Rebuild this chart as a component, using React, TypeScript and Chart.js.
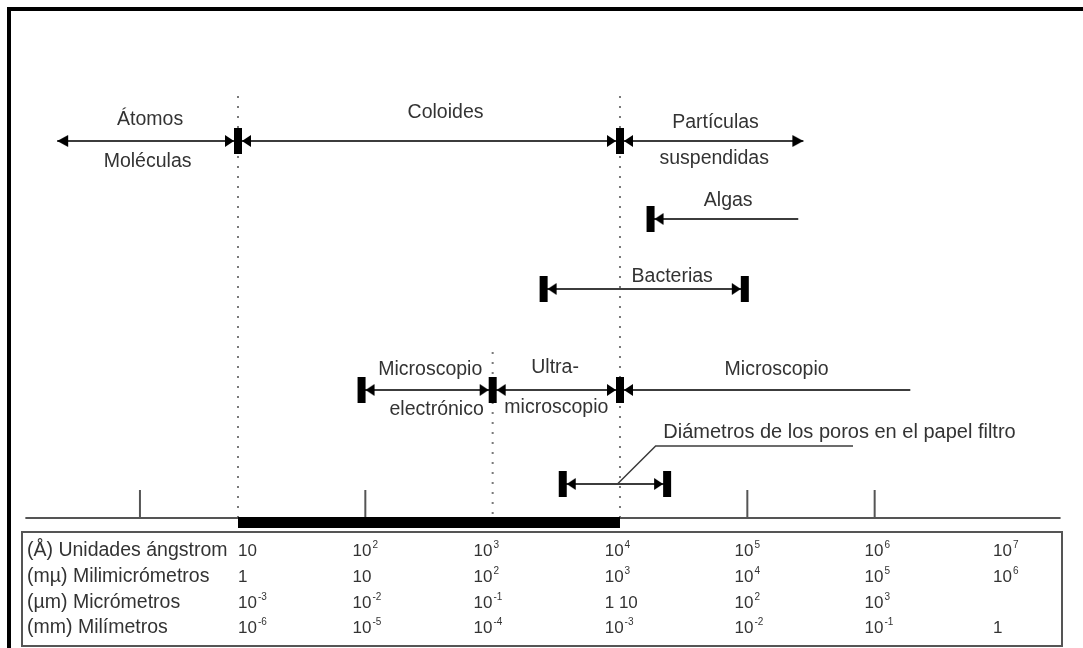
import React, { useEffect, useRef } from "react";
import { Chart, registerables } from "chart.js";

Chart.register(...registerables);

// ---------- DATA (x values are log10 of the size in Ångström) ----------
const mainRow = [-0.42, 1, 4, 5.44]; // Átomos | Coloides | Partículas suspendidas
const algasRow = [4.24, 5.4];
const bacteriasRow = [3.4, 4.98];
const microscopeRow = [1.97, 3, 4, 6.28]; // electrónico | ultra | óptico
const poresRow = [3.55, 4.37];
const colloidBand = [1, 4];
const dottedLimits = [1, 3, 4];
const axisTicks = [0.23, 2, 5, 6];
const axisExtent = [-0.67, 7.46];
const poreLeader = [3.98, 4.28, 5.83];

const labelTexts = [
  "Átomos", "Moléculas", "Coloides", "Partículas", "suspendidas", "Algas",
  "Bacterias", "Microscopio", "electrónico", "Ultra-", "microscopio", "Microscopio",
];
const labelX = [0.31, 0.29, 2.63, 4.75, 4.74, 4.85, 4.41, 2.51, 2.56, 3.49, 3.5, 5.23];
const poreLabel = "Diámetros de los poros en el papel filtro";
const poreLabelX = 4.34;

const tableRowLabels = [
  "(Å) Unidades ángstrom",
  "(mµ) Milimicrómetros",
  "(µm) Micrómetros",
  "(mm) Milímetros",
];
const tableColumns = [1, 1.9, 2.85, 3.88, 4.9, 5.92, 6.93];
const angstromRow = ["10", "10^2", "10^3", "10^4", "10^5", "10^6", "10^7"];
const milimicroRow = ["1", "10", "10^2", "10^3", "10^4", "10^5", "10^6"];
const microRow = ["10^-3", "10^-2", "10^-1", "1 10", "10^2", "10^3", ""];
const miliRow = ["10^-6", "10^-5", "10^-4", "10^-3", "10^-2", "10^-1", "1"];

// ---------- LAYOUT ----------
const W = 1083;
const H = 648;
const LANE = { main: 141, algas: 219, bacterias: 289, scope: 390, pores: 484, axis: 518, band: 522.5, tickTop: 490, leaderTop: 446 };
const labelY = [120, 162, 113, 123, 159, 201, 277, 370, 410, 368, 408, 370];
const poreLabelY = 432;
const dottedTop = [96, 352, 96];
const tableRowY = [551, 577, 603, 628];
const FONT = '"Liberation Sans", Arial, sans-serif';
const TEXT = "#333";
const LINE = "#3c3c3c";

type Glyph = HTMLCanvasElement;

function makeGlyph(kind: string): Glyph {
  const c = document.createElement("canvas");
  c.width = 40;
  c.height = 28;
  const g = c.getContext("2d")!;
  const cx = 20;
  const cy = 14;
  g.fillStyle = "#000";
  const bar = () => g.fillRect(cx - 4, cy - 13, 8, 26);
  const tri = (x0: number, x1: number) => {
    g.beginPath();
    g.moveTo(x0, cy);
    g.lineTo(x1, cy - 6);
    g.lineTo(x1, cy + 6);
    g.closePath();
    g.fill();
  };
  if (kind === "joint") {
    bar();
    tri(cx - 4, cx - 13);
    tri(cx + 4, cx + 13);
  } else if (kind === "leftEnd") {
    bar();
    tri(cx + 4, cx + 13);
  } else if (kind === "rightEnd") {
    bar();
    tri(cx - 4, cx - 13);
  } else if (kind === "tipLeft") {
    tri(cx, cx + 11);
  } else if (kind === "tipRight") {
    tri(cx, cx - 11);
  }
  return c;
}

function drawSup(ctx: CanvasRenderingContext2D, s: string, x: number, y: number) {
  const [base, exp] = s.split("^");
  ctx.font = `17px ${FONT}`;
  ctx.textBaseline = "middle";
  ctx.textAlign = "left";
  ctx.fillText(base, x, y);
  if (exp) {
    const w = ctx.measureText(base).width;
    ctx.font = `10px ${FONT}`;
    ctx.fillText(exp, x + w + 1, y - 6);
  }
}

export default function App() {
  const ref = useRef<HTMLCanvasElement>(null);

  useEffect(() => {
    const canvas = ref.current!;
    const G: Record<string, Glyph> = {};
    ["joint", "leftEnd", "rightEnd", "tipLeft", "tipRight"].forEach((k) => (G[k] = makeGlyph(k)));

    const lane = (xs: number[], y: number, styles: (string | null)[], width = 2) => ({
      type: "line" as const,
      data: xs.map((x) => ({ x, y })),
      borderColor: LINE,
      borderWidth: width,
      pointStyle: styles.map((s) => (s ? G[s] : "circle")),
      pointRadius: styles.map((s) => (s ? 10 : 0)),
      pointBorderWidth: 0,
      pointBackgroundColor: "#000",
      clip: false as const,
    });

    const seg = (pts: { x: number; y: number }[], color: string, width: number, dash: number[] = []) => ({
      type: "line" as const,
      data: pts,
      borderColor: color,
      borderWidth: width,
      borderDash: dash,
      borderCapStyle: "butt" as const,
      pointRadius: 0,
      clip: false as const,
    });

    const datasets: any[] = [
      lane(mainRow, LANE.main, ["tipLeft", "joint", "joint", "tipRight"]),
      lane(algasRow, LANE.algas, ["leftEnd", null]),
      lane(bacteriasRow, LANE.bacterias, ["leftEnd", "rightEnd"]),
      lane(microscopeRow, LANE.scope, ["leftEnd", "joint", "joint", null]),
      lane(poresRow, LANE.pores, ["leftEnd", "rightEnd"]),
      seg(
        [
          { x: poreLeader[0], y: LANE.pores },
          { x: poreLeader[1], y: LANE.leaderTop },
          { x: poreLeader[2], y: LANE.leaderTop },
        ],
        LINE,
        1.5
      ),
      seg(colloidBand.map((x) => ({ x, y: LANE.band })), "#000", 11),
      ...axisTicks.map((x) => seg([{ x, y: LANE.axis }, { x, y: LANE.tickTop }], "#555", 2)),
      seg(axisExtent.map((x) => ({ x, y: LANE.axis })), "#555", 2),
      ...dottedLimits.map((x, i) =>
        seg([{ x, y: dottedTop[i] }, { x, y: LANE.axis + 2 }], "#7a7a7a", 2, [2, 8])
      ),
    ];

    const decor = {
      id: "decor",
      beforeDraw(chart: any) {
        const ctx = chart.ctx as CanvasRenderingContext2D;
        ctx.save();
        ctx.fillStyle = "#fff";
        ctx.fillRect(0, 0, W, H);
        ctx.strokeStyle = "#000";
        ctx.lineWidth = 4;
        ctx.beginPath();
        ctx.moveTo(9, H);
        ctx.lineTo(9, 9);
        ctx.lineTo(W, 9);
        ctx.stroke();
        ctx.restore();
      },
      afterDatasetsDraw(chart: any) {
        const ctx = chart.ctx as CanvasRenderingContext2D;
        const xs = chart.scales.x;
        const ys = chart.scales.y;
        ctx.save();
        ctx.fillStyle = TEXT;
        ctx.textBaseline = "middle";
        ctx.textAlign = "center";
        ctx.font = `19.5px ${FONT}`;
        labelTexts.forEach((t, i) => {
          ctx.fillText(t, xs.getPixelForValue(labelX[i]), ys.getPixelForValue(labelY[i]));
        });
        ctx.textAlign = "left";
        ctx.font = `20px ${FONT}`;
        ctx.fillText(poreLabel, xs.getPixelForValue(poreLabelX), ys.getPixelForValue(poreLabelY));

        // table box
        ctx.strokeStyle = "#555";
        ctx.lineWidth = 2;
        ctx.strokeRect(22, 532, 1040, 114);

        const rows = [angstromRow, milimicroRow, microRow, miliRow];
        rows.forEach((row, r) => {
          const y = ys.getPixelForValue(tableRowY[r]);
          ctx.fillStyle = TEXT;
          ctx.font = `19.5px ${FONT}`;
          ctx.textAlign = "left";
          ctx.fillText(tableRowLabels[r], 27, y);
          row.forEach((cell, c) => {
            if (cell) drawSup(ctx, cell, xs.getPixelForValue(tableColumns[c]), y);
          });
        });
        ctx.restore();
      },
    };

    const chart = new Chart(canvas, {
      type: "line",
      data: { datasets },
      options: {
        animation: false,
        responsive: false,
        events: [],
        layout: { padding: 0, autoPadding: false },
        plugins: { legend: { display: false }, tooltip: { enabled: false } },
        scales: {
          x: { type: "linear", min: -0.8691, max: 7.6362, display: false },
          y: { type: "linear", min: 0, max: H, reverse: true, display: false },
        },
      },
      plugins: [decor],
    });
    return () => chart.destroy();
  }, []);

  return (
    <div style={{ position: "fixed", left: 0, top: 0, width: W, height: H, background: "#fff" }}>
      <canvas ref={ref} width={W} height={H} style={{ display: "block" }} />
    </div>
  );
}
